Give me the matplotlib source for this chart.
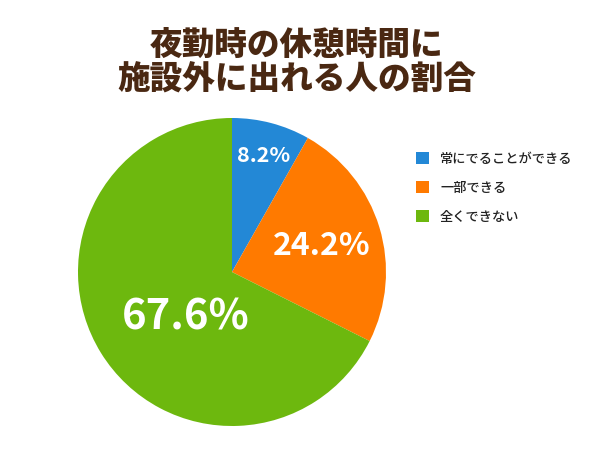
import matplotlib
matplotlib.use('Agg')
import matplotlib.pyplot as plt
import numpy as np

plt.rcParams['font.family'] = ['Noto Sans CJK JP', 'DejaVu Sans']

title = '夜勤時の休憩時間に\n施設外に出れる人の割合'
labels = ['常にでることができる', '一部できる', '全くできない']
values = [8.2, 24.2, 67.6]
colors = ['#2388d6', '#ff7a00', '#6db80e']
label_sizes = [15.5, 23, 30]
# label offsets from pie centre (pixels, x right / y up)
label_offsets = [(32, 117), (90, 26), (-46, -46)]

fig = plt.figure(figsize=(6, 4.5), dpi=100)
fig.patch.set_facecolor('white')
ax = fig.add_axes([0, 0, 1, 1])

cx, cy, r = 232, 450 - 272, 154
wedges, _ = ax.pie(values, colors=colors, startangle=90, counterclock=False,
                   center=(cx, cy), radius=r, frame=True,
                   wedgeprops=dict(linewidth=0))
ax.set_xlim(0, 600)
ax.set_ylim(0, 450)
ax.set_aspect('equal')
ax.axis('off')

for v, s, (dx, dy) in zip(values, label_sizes, label_offsets):
    ax.text(cx + dx, cy + dy, f'{v:.1f}%', color='white', fontsize=s,
            fontweight='bold', ha='center', va='center')

fig.text(0.495, 0.862, title, ha='center', va='center', fontsize=23.5,
         fontweight='black', color='#4a2812', linespacing=1.05)

leg = fig.legend(wedges, labels, loc='upper left', bbox_to_anchor=(0.685, 0.675),
                 frameon=False, fontsize=9.5, handlelength=1.0, handleheight=1.0,
                 handletextpad=0.8, labelspacing=1.15, borderaxespad=0)
for t in leg.get_texts():
    t.set_color('#222222')
    t.set_fontweight('medium')

fig.savefig('out.png', dpi=100)
